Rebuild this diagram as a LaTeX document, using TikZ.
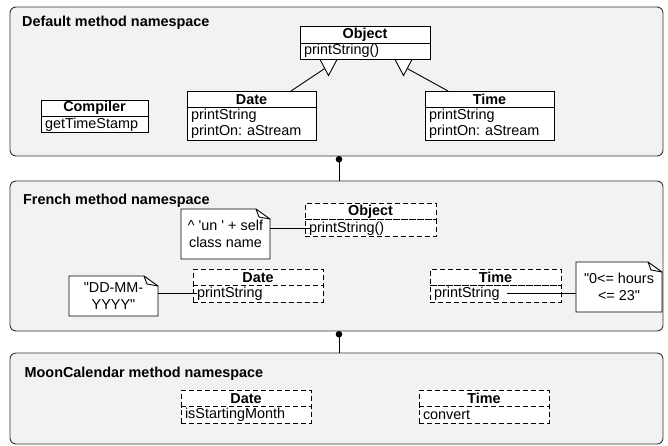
\documentclass[tikz,border=0pt]{standalone}
\usepackage{fontspec}
\newfontfamily\umlfont{Liberation Sans}
\usepackage{tikz}
\usetikzlibrary{positioning, arrows.meta}
\definecolor{nsgray}{HTML}{F2F2F2}
\definecolor{nsline}{HTML}{333333}
\frenchspacing

% folded corner of a note node
\newcommand{\dogear}[1]{%
  \fill[nsgray] ([xshift=-14pt]#1.north east) -- (#1.north east) -- ([yshift=-10pt]#1.north east) -- cycle;
  \draw[line width=0.9pt] (#1.north west) -- ([xshift=-14pt]#1.north east) -- ([yshift=-10pt]#1.north east)
    -- (#1.south east) -- (#1.south west) -- cycle;
  \draw[line width=0.9pt] ([xshift=-14pt]#1.north east) -- ([xshift=-11pt,yshift=-8pt]#1.north east)
    -- ([yshift=-10pt]#1.north east);
}

\begin{document}
\begin{tikzpicture}[x=1pt, y=-1pt, font=\umlfont\fontsize{14.4}{16.5}\selectfont,
  panel/.style={draw=nsline, fill=nsgray, rounded corners=6pt, line width=0.9pt, outer sep=0pt},
  title/.style={anchor=base west, inner sep=0pt, font=\umlfont\fontsize{14.4}{16.5}\selectfont\bfseries},
  head/.style={draw, fill=white, line width=0.9pt, minimum width=#1, minimum height=16.5pt,
    inner sep=0pt, outer sep=0pt, anchor=north west, font=\umlfont\fontsize{14.4}{16.5}\selectfont\bfseries},
  body/.style={draw, fill=white, line width=0.9pt, text width=#1, align=left, minimum height=16.5pt,
    inner xsep=4pt, inner ysep=0pt, outer sep=0pt},
  dhead/.style={head=#1, dash pattern=on 5pt off 3pt},
  dbody/.style={body=#1, dash pattern=on 5pt off 3pt},
  note/.style={fill=white, inner sep=0pt, outer sep=0pt, align=center},
  link/.style={line width=0.9pt},
  nest/.style={{Circle[length=6.5pt]}-, line width=0.9pt}]
  \useasboundingbox (0,0) rectangle (668,445);

  % namespaces
  \node[panel, minimum width=653pt, minimum height=149pt] (defaultNS) at (336.5,81.5) {};
  \node[panel, minimum width=653pt, minimum height=150pt] (frenchNS) at (336.5,256) {};
  \node[panel, minimum width=653pt, minimum height=91pt] (moonNS) at (336.5,398.5) {};
  \node[title] (defaultT) at (22,26) {Default method namespace};
  \node[title] (frenchT) at (23,204.3) {French method namespace};
  \node[title] (moonT) at (24.5,377.3) {MoonCalendar method namespace};
  \draw[nest] ([xshift=2.5pt]defaultNS.south) -- ([xshift=2.5pt]frenchNS.north);
  \draw[nest] ([xshift=2.5pt]frenchNS.south) -- ([xshift=2.5pt]moonNS.north);

  % default namespace
  \node[head=130pt] (objDh) at (300,26.5) {Object};
  \node[body=122pt, below=0pt of objDh] (objDb) {printString()};
  \node[head=129pt] (dateDh) at (187,91) {Date};
  \node[body=121pt, minimum height=33pt, below=0pt of dateDh] (dateDb) {printString\\printOn: aStream};
  \node[head=129pt] (timeDh) at (425,91) {Time};
  \node[body=121pt, minimum height=33pt, below=0pt of timeDh] (timeDb) {printString\\printOn: aStream};
  \node[head=107pt] (compDh) at (41,100) {Compiler};
  \node[body=99pt, minimum height=16pt, below=0pt of compDh] (compDb) {getTimeStamp};

  \coordinate (inhL) at ([xshift=-36.5pt]objDb.south);
  \coordinate (inhR) at ([xshift=38.5pt]objDb.south);
  \draw[link] ([xshift=39.5pt]dateDh.north) -- ([xshift=-3.7pt,yshift=-9pt]inhL);
  \draw[link] ([xshift=-41.5pt]timeDh.north) -- ([xshift=3.7pt,yshift=-9pt]inhR);
  \draw[link, fill=white] (inhL) ++(-8.5,0) -- ++(17,0) -- ++(-8.5,16) -- cycle;
  \draw[link, fill=white] (inhR) ++(-8.5,0) -- ++(17,0) -- ++(-8.5,16) -- cycle;

  % french namespace
  \node[dhead=131pt] (objFh) at (305,203.3) {Object};
  \node[dbody=123pt, minimum height=17pt, below=0pt of objFh] (objFb) {printString()};
  \node[dhead=130pt] (dateFh) at (193,269) {Date};
  \node[dbody=122pt, below=0pt of dateFh] (dateFb) {printString};
  \node[dhead=131pt] (timeFh) at (430,269) {Time};
  \node[dbody=123pt, below=0pt of timeFh] (timeFb) {printString};

  \node[note, minimum width=89pt, minimum height=50pt] (unNote) at (225.5,234) {\textasciicircum\ 'un ' + self\\class name};
  \dogear{unNote}
  \node[note, minimum width=89pt, minimum height=40pt] (fmtNote) at (113.5,296) {"DD-MM-\\YYYY"};
  \dogear{fmtNote}
  \node[note, minimum width=86pt, minimum height=50pt] (hourNote) at (619,287) {"0<= hours\\<= 23"};
  \dogear{hourNote}

  \draw[link] (unNote.east |- objFb) -- ([xshift=5pt]objFb.west);
  \draw[link] (fmtNote.east |- dateFb) -- ([xshift=4pt]dateFb.west);
  \draw[link] ([xshift=77pt]timeFb.west) -- (timeFb -| hourNote.west);

  % mooncalendar namespace
  \node[dhead=130pt] (dateMh) at (181,390) {Date};
  \node[dbody=122pt, below=0pt of dateMh] (dateMb) {isStartingMonth};
  \node[dhead=130pt] (timeMh) at (419,390) {Time};
  \node[dbody=122pt, below=0pt of timeMh] (timeMb) {convert};
\end{tikzpicture}
\end{document}
